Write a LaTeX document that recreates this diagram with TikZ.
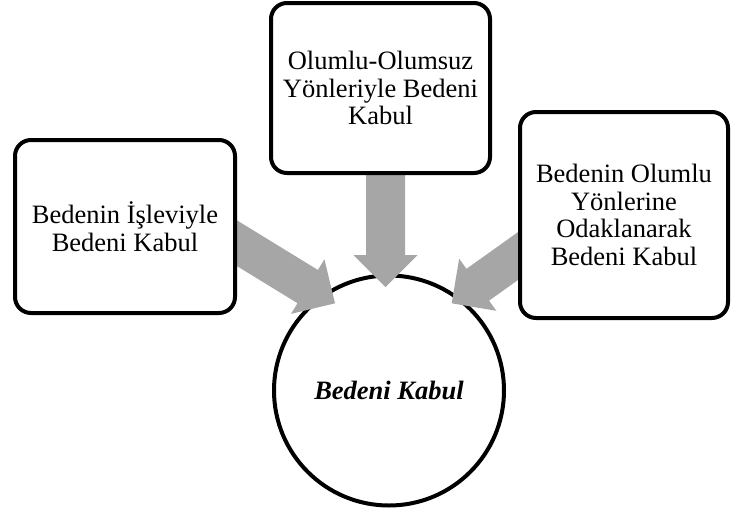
\documentclass[tikz,border=0pt]{standalone}
\usepackage{fontspec}
\setmainfont{Liberation Serif}
\usetikzlibrary{calc}
\definecolor{arrowgray}{HTML}{A6A6A6}
\pgfdeclarelayer{bglayer}
\pgfdeclarelayer{midlayer}
\pgfsetlayers{bglayer,midlayer,main}
\tikzset{
  box/.style={draw=black, line width=4pt, rounded corners=16pt, fill=white,
    align=center, inner sep=0pt,
    font=\fontsize{26.5}{27.7}\selectfont},
  hub/.style={circle, draw=black, line width=4pt, fill=white,
    minimum size=230pt, inner sep=0pt,
    font=\fontsize{26.5}{27.7}\selectfont\bfseries\itshape}
}
\newcommand\bigarrow[2]{%
  \coordinate (hb) at ($(#2)!32pt!(#1)$);
  \fill[arrowgray] ($(#1)!19.5pt!90:(#2)$) -- ($(hb)!19.5pt!90:(#2)$)
    -- ($(hb)!32pt!90:(#2)$) -- (#2) -- ($(hb)!32pt!-90:(#2)$)
    -- ($(hb)!19.5pt!-90:(#2)$) -- ($(#1)!19.5pt!-90:(#2)$) -- cycle;}
\begin{document}
\begin{tikzpicture}[x=1pt,y=-1pt]
\useasboundingbox (0,0) rectangle (731,515);
% boxes
\node[box, minimum width=220pt, minimum height=173pt] (left) at (125,226.5)
  {Bedenin İşleviyle\\Bedeni Kabul};
\node[box, minimum width=219pt, minimum height=170pt] (top) at (380.5,88)
  {Olumlu-Olumsuz\\Yönleriyle Bedeni\\Kabul};
\node[box, minimum width=208pt, minimum height=206pt] (right) at (624,215)
  {Bedenin Olumlu\\Yönlerine\\Odaklanarak\\Bedeni Kabul};
% hub
\begin{pgfonlayer}{bglayer}
\node[hub] (hub) at (389,390.5) {Bedeni Kabul};
\end{pgfonlayer}
% arrows
\coordinate (srcL) at (203,222.4);
\coordinate (tipL) at (335,303.3);
\coordinate (srcT) at (385.5,150);
\coordinate (tipT) at (385.5,287);
\coordinate (srcR) at (550.6,232.8);
\coordinate (tipR) at (451.7,303.3);
\begin{pgfonlayer}{midlayer}
\bigarrow{srcL}{tipL}
\bigarrow{srcT}{tipT}
\bigarrow{srcR}{tipR}
\end{pgfonlayer}
\end{tikzpicture}
\end{document}
